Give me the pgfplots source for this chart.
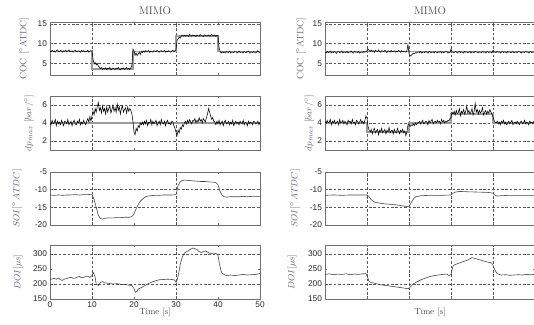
\documentclass[border=0pt]{standalone}
\usepackage{fontspec}
\setsansfont{Liberation Sans}
\usepackage{pgfplots}
\pgfplotsset{compat=1.18}
\definecolor{refgray}{RGB}{155,155,155}
\definecolor{gridc}{RGB}{85,85,85}
\definecolor{labc}{RGB}{100,94,118}
\definecolor{framec}{RGB}{110,110,110}

\pgfplotsset{
  mimo/.style={
    scale only axis, width=210pt, anchor=south west,
    xmin=0, xmax=50, xtick={0,10,...,50}, xticklabels={},
    axis line style={framec, line width=0.5pt},
    tick style={framec, line width=0.4pt},
    major tick length=2pt, tick align=inside,
    ticklabel style={font=\fontsize{8.3}{9}\selectfont\sffamily, text=black!85},
    yticklabel style={xshift=0.5pt},
    xticklabel style={yshift=1pt},
    /pgf/number format/assume math mode=true,
    grid style={gridc, dash pattern=on 2.6pt off 1.8pt, line width=0.45pt},
    ylabel style={font=\fontsize{9.3}{10}\selectfont, text=labc, anchor=center},
    title style={font=\fontsize{11}{12}\selectfont, text=black!72, at={(axis description cs:0.5,1)}, anchor=center, yshift=5.5pt},
    xlabel style={font=\fontsize{8.6}{9}\selectfont, text=black!72, at={(axis description cs:0.5,0)}, anchor=center, yshift=-13.5pt},
    ymajorgrids,
  },
  leftcol/.style={xmajorgrids=false, extra x ticks={10,30}, extra x tick labels={}, extra x tick style={grid=major, major tick length=0pt}},
  rightcol/.style={xmajorgrids=true},
  cocax/.style={height=53pt, ymin=2, ymax=15.5, ytick={5,10,15}, ylabel={COC [$^\circ$ATDC]}},
  dpax/.style={height=54pt, ymin=1, ymax=7, ytick={2,4,6}, ylabel={$dp_{max}\;[bar/^\circ]$}},
  soiax/.style={height=53pt, ymin=-20, ymax=-5, ytick={-20,-15,-10,-5}, ylabel={$SOI[^\circ\,ATDC]$}},
  doiax/.style={height=54pt, ymin=150, ymax=330, ytick={150,200,250,300}, ymajorgrids=false, extra y ticks={200,300}, extra y tick labels={}, extra y tick style={ymajorgrids=true, major tick length=0pt}, ylabel={$DOI[\mu s]$}},
  refline/.style={refgray, line width=1.8pt},
  measline/.style={black, line width=0.55pt},
  smoothline/.style={black!72, line width=0.6pt},
}

\begin{document}
\begin{tikzpicture}
% ---------------- left column ----------------
\begin{axis}[mimo, leftcol, cocax, at={(50pt,249pt)}, title={MIMO},
  ylabel style={at={(axis description cs:-0.124,0.5)}}]
\addplot[refline] coordinates {(0,8)(10,8)(10,3.5)(19.7,3.5)(19.7,8)(30,8)(30,12)(40,12)(40,8)(50,8)};
% sampled every 0.25 s
\addplot[measline] table[header=false, row sep=\\, x expr=\coordindex*0.25, y index=0] {
8.2\\7.9\\8.3\\8.0\\8.1\\7.8\\8.2\\8.4\\8.0\\7.9\\8.3\\8.1\\7.8\\8.2\\8.0\\8.3\\7.9\\8.1\\8.4\\7.9\\8.0\\8.2\\7.8\\8.1\\8.3\\8.0\\7.9\\8.2\\8.1\\7.8\\8.3\\8.0\\8.2\\7.9\\8.1\\8.0\\8.3\\7.8\\8.1\\8.2\\
8.0\\6.0\\4.8\\5.2\\4.6\\4.9\\4.3\\4.0\\3.6\\3.9\\3.4\\3.7\\3.5\\
3.8\\3.4\\3.7\\3.5\\3.9\\3.3\\3.6\\3.8\\3.5\\3.4\\3.7\\3.6\\3.9\\3.5\\3.3\\3.7\\3.6\\3.8\\3.4\\3.6\\3.9\\3.5\\3.7\\3.4\\3.8\\
4.5\\8.6\\8.2\\7.0\\7.6\\6.9\\7.4\\7.8\\7.2\\8.0\\7.7\\
8.1\\7.8\\8.2\\7.9\\8.0\\8.3\\7.7\\8.1\\8.0\\7.8\\8.2\\8.1\\7.9\\8.3\\8.0\\7.8\\8.1\\8.2\\7.9\\8.0\\8.3\\7.8\\8.1\\7.9\\8.2\\8.0\\7.8\\8.1\\8.3\\7.9\\8.2\\
8.4\\10.8\\11.2\\11.6\\11.4\\11.9\\12.2\\11.9\\
12.1\\11.9\\12.2\\12.0\\11.8\\12.3\\12.1\\11.9\\12.2\\12.0\\12.1\\11.8\\12.2\\12.0\\11.9\\12.3\\12.1\\12.0\\11.8\\12.2\\12.1\\11.9\\12.0\\12.2\\11.9\\12.1\\12.3\\11.9\\12.0\\12.2\\11.8\\12.1\\
12.0\\9.0\\8.0\\7.6\\7.9\\
7.7\\7.9\\7.6\\8.0\\7.8\\7.7\\8.1\\7.6\\7.9\\7.8\\7.7\\8.0\\7.9\\7.6\\7.8\\8.1\\7.7\\7.9\\7.8\\7.6\\8.0\\7.8\\7.7\\7.9\\8.1\\7.6\\7.8\\7.9\\7.7\\8.0\\7.8\\7.6\\7.9\\8.2\\7.8\\7.7\\
};
\end{axis}

\begin{axis}[mimo, leftcol, dpax, at={(50pt,174pt)},
  ylabel style={at={(axis description cs:-0.10,0.5)}}]
\addplot[refline] coordinates {(0,4)(50,4)};
\addplot[measline] table[header=false, row sep=\\, x expr=\coordindex*0.25, y index=0] {
4.1\\3.8\\4.3\\3.9\\4.0\\4.4\\3.7\\4.2\\3.9\\4.1\\3.8\\4.3\\4.0\\3.7\\4.2\\4.1\\3.9\\4.4\\3.8\\4.0\\4.2\\3.7\\4.1\\4.3\\3.9\\3.8\\4.2\\4.0\\4.4\\3.8\\4.1\\3.9\\4.3\\4.0\\3.8\\4.2\\4.5\\4.1\\4.7\\4.2\\
4.8\\5.3\\4.9\\5.6\\5.2\\5.8\\6.3\\5.4\\5.7\\5.1\\5.9\\5.3\\5.6\\
5.0\\5.8\\5.2\\5.6\\5.9\\5.1\\5.5\\6.0\\5.3\\5.7\\5.2\\6.1\\5.4\\5.8\\5.0\\5.6\\5.9\\5.2\\5.5\\5.7\\5.1\\5.8\\5.3\\5.6\\5.4\\
5.0\\4.2\\3.0\\2.7\\3.4\\3.1\\3.7\\3.5\\4.0\\3.8\\4.1\\
3.8\\4.2\\3.9\\4.3\\3.7\\4.1\\4.0\\4.4\\3.8\\4.2\\3.9\\4.1\\4.3\\3.7\\4.0\\4.2\\3.8\\4.4\\4.0\\3.9\\4.2\\3.7\\4.1\\4.3\\3.9\\4.0\\3.8\\4.2\\4.1\\
3.7\\3.4\\3.0\\2.6\\3.2\\2.9\\3.5\\3.3\\3.8\\3.6\\4.0\\
4.2\\3.9\\4.3\\4.0\\4.4\\4.1\\3.9\\4.3\\4.2\\4.5\\4.0\\4.3\\4.1\\4.6\\4.2\\4.4\\4.0\\4.5\\4.3\\4.1\\
4.6\\5.0\\5.6\\5.2\\4.8\\4.4\\4.6\\4.2\\
4.1\\3.8\\4.2\\3.9\\4.3\\3.8\\4.0\\4.2\\3.7\\4.1\\4.3\\3.9\\4.0\\4.2\\3.8\\4.1\\3.9\\4.3\\3.7\\4.0\\4.2\\3.9\\4.1\\3.8\\4.2\\4.0\\3.9\\4.3\\3.8\\4.1\\4.0\\3.7\\4.2\\3.9\\4.1\\4.0\\3.8\\4.2\\4.1\\3.9\\4.0\\4.2\\3.8\\4.1\\
};
\end{axis}

\begin{axis}[mimo, leftcol, soiax, at={(50pt,99pt)},
  ylabel style={at={(axis description cs:-0.157,0.5)}}]
\addplot[smoothline] coordinates {(0,-11.5)(1,-11.6)(2,-11.5)(3,-11.6)(4,-11.5)(5,-11.5)(6,-11.4)(7,-11.5)(8,-11.4)(9,-11.4)(10,-11.3)(10.5,-12.8)(11,-15)(11.5,-17.2)(12,-18.2)(12.5,-18.3)(13,-18.1)(14,-18.0)(15,-18.0)(16,-17.9)(17,-17.9)(18,-17.8)(19,-17.8)(19.5,-17.6)(20,-16.8)(20.5,-15.4)(21,-14.2)(21.5,-13.3)(22,-12.7)(22.5,-12.2)(23,-11.9)(24,-11.7)(25,-11.6)(26,-11.6)(27,-11.5)(28,-11.5)(29,-11.5)(30,-11.4)(30.25,-10.2)(30.5,-8.8)(31,-7.8)(31.5,-7.4)(32,-7.3)(33,-7.4)(34,-7.5)(35,-7.6)(36,-7.7)(37,-7.7)(38,-7.8)(39,-7.9)(39.5,-8.0)(40,-8.6)(40.5,-10.5)(41,-11.6)(41.5,-12.0)(42,-12.1)(43,-12.0)(44,-12.0)(45,-12.0)(46,-11.9)(47,-12.0)(48,-11.9)(49,-11.9)(50,-11.9)};
\end{axis}

\begin{axis}[mimo, leftcol, doiax, at={(50pt,25pt)},
  xticklabels={0,10,20,30,40,50}, xlabel={Time [s]},
  ylabel style={at={(axis description cs:-0.152,0.5)}}]
\addplot[smoothline] coordinates {(0,215)(0.5,217)(1,219)(1.5,216)(2,220)(2.5,214)(3,212)(3.5,217)(4,218)(4.5,221)(5,222)(5.5,219)(6,220)(6.5,223)(7,225)(7.5,221)(8,222)(8.5,225)(9,226)(9.5,222)(10,228)(10.3,238)(10.7,226)(11,200)(11.5,195)(12,205)(12.5,208)(13,204)(14,202)(15,200)(16,201)(17,199)(18,198)(19,196)(19.5,195)(20,185)(20.3,172)(20.7,175)(21,183)(22,190)(23,198)(24,205)(25,210)(26,214)(27,215)(28,216)(29,215)(29.7,213)(30,205)(30.3,215)(30.7,240)(31,265)(31.5,290)(32,303)(33,312)(34,320)(35,315)(35.5,308)(36,305)(37,310)(38,303)(39,300)(39.5,302)(40,296)(40.3,270)(40.7,245)(41,235)(42,228)(43,230)(44,228)(45,230)(46,232)(47,230)(48,231)(49,232)(50,235)};
\end{axis}

% ---------------- right column ----------------
\begin{axis}[mimo, rightcol, cocax, at={(325pt,249pt)}, title={MIMO},
  ylabel style={at={(axis description cs:-0.114,0.5)}}]
\addplot[refline] coordinates {(0,8)(50,8)};
\addplot[measline] table[header=false, row sep=\\, x expr=\coordindex*0.25, y index=0] {
7.9\\7.6\\8.0\\7.7\\7.8\\8.1\\7.6\\7.9\\7.7\\8.0\\7.8\\7.5\\7.9\\8.0\\7.7\\7.8\\8.1\\7.6\\7.9\\7.8\\7.7\\8.0\\7.6\\7.9\\7.8\\8.1\\7.7\\7.6\\8.0\\7.8\\7.9\\7.7\\8.0\\7.6\\7.8\\7.9\\7.7\\8.0\\7.8\\7.9\\
8.2\\
8.6\\8.3\\7.9\\8.4\\8.0\\8.2\\7.8\\8.3\\8.1\\7.9\\8.4\\8.0\\7.8\\8.2\\8.1\\7.9\\8.3\\8.0\\7.7\\8.2\\8.1\\7.8\\8.3\\7.9\\8.0\\8.2\\7.8\\8.1\\7.9\\8.3\\8.0\\7.8\\8.2\\7.9\\8.1\\8.0\\7.8\\8.2\\
9.8\\7.4\\6.8\\7.0\\7.3\\7.5\\7.4\\7.7\\7.6\\7.8\\
7.9\\7.7\\8.0\\7.6\\7.8\\7.9\\7.7\\8.0\\7.8\\7.6\\7.9\\8.0\\7.7\\7.8\\7.9\\7.6\\8.0\\7.8\\7.7\\7.9\\
7.8\\8.0\\7.6\\7.9\\7.7\\7.8\\8.0\\7.9\\7.6\\7.8\\7.7\\8.6\\7.9\\7.8\\7.7\\8.0\\7.9\\7.6\\7.8\\8.0\\
7.7\\7.9\\7.8\\7.6\\8.0\\7.8\\7.9\\7.7\\7.8\\8.0\\7.6\\7.9\\7.8\\7.7\\8.0\\7.9\\7.8\\7.6\\7.9\\7.8\\
7.7\\8.0\\7.8\\7.9\\7.6\\7.8\\8.0\\7.7\\7.9\\7.8\\7.6\\8.3\\7.9\\7.8\\7.7\\8.0\\7.8\\7.9\\7.6\\7.8\\
8.0\\7.7\\7.9\\7.8\\7.6\\8.0\\7.8\\7.9\\7.7\\7.8\\8.0\\7.6\\7.9\\7.8\\7.7\\8.0\\7.9\\7.8\\7.6\\7.9\\
7.8\\7.7\\8.0\\7.8\\7.9\\7.6\\7.8\\8.0\\7.7\\7.9\\7.8\\7.8\\
};
\end{axis}

\begin{axis}[mimo, rightcol, dpax, at={(325pt,174pt)},
  ylabel style={at={(axis description cs:-0.075,0.5)}}]
\addplot[refline] coordinates {(0,4)(10,4)(10,3)(20,3)(20,4)(30,4)(30,5)(40,5)(40,4)(50,4)};
\addplot[measline] table[header=false, row sep=\\, x expr=\coordindex*0.25, y index=0] {
4.2\\3.9\\4.3\\4.0\\4.1\\4.4\\3.8\\4.2\\4.0\\4.3\\3.9\\4.1\\4.2\\3.8\\4.4\\4.0\\4.1\\4.3\\3.9\\4.2\\4.0\\3.8\\4.3\\4.1\\4.2\\3.9\\4.4\\4.0\\4.1\\3.8\\4.3\\4.2\\3.9\\4.1\\4.4\\4.0\\4.2\\3.9\\4.3\\
4.8\\4.5\\3.6\\3.2\\
3.0\\3.3\\2.8\\3.2\\3.4\\2.9\\3.1\\3.3\\2.7\\3.2\\3.0\\3.4\\2.9\\3.1\\3.3\\2.8\\3.2\\3.0\\3.5\\2.9\\3.1\\3.2\\2.8\\3.3\\3.0\\2.9\\3.4\\3.1\\2.8\\3.2\\3.0\\3.3\\2.9\\3.1\\2.6\\3.0\\
3.8\\3.9\\3.6\\3.8\\3.7\\3.9\\3.7\\4.0\\3.8\\4.0\\
4.0\\4.2\\3.9\\4.1\\4.3\\3.9\\4.0\\4.2\\4.1\\3.8\\4.3\\4.0\\4.2\\4.4\\3.9\\4.1\\4.2\\4.0\\4.3\\4.1\\4.2\\3.9\\4.4\\4.1\\4.3\\4.0\\4.2\\4.1\\4.3\\4.2\\
4.5\\4.6\\5.2\\5.0\\
5.3\\4.9\\5.4\\5.0\\5.2\\5.6\\4.8\\5.3\\5.1\\5.5\\5.0\\5.3\\5.9\\5.1\\5.4\\5.0\\5.2\\5.6\\4.9\\5.3\\6.2\\5.2\\5.5\\5.0\\5.4\\5.1\\5.3\\5.7\\4.9\\5.2\\5.4\\5.0\\5.3\\5.1\\5.5\\5.2\\
5.0\\4.7\\4.3\\4.1\\
4.0\\4.2\\3.9\\4.1\\3.8\\4.2\\4.0\\4.3\\3.9\\4.1\\3.8\\4.0\\4.2\\3.9\\4.1\\4.3\\3.8\\4.0\\4.1\\3.9\\4.2\\4.0\\3.8\\4.1\\4.2\\3.9\\4.0\\4.3\\3.9\\4.1\\4.0\\3.8\\4.2\\4.0\\4.1\\3.9\\4.2\\4.0\\
};
\end{axis}

\begin{axis}[mimo, rightcol, soiax, at={(325pt,99pt)},
  ylabel style={at={(axis description cs:-0.143,0.5)}}]
\addplot[smoothline] coordinates {(0,-11.6)(2,-11.5)(4,-11.6)(6,-11.5)(8,-11.5)(10,-11.5)(10.5,-12)(11,-12.8)(11.5,-13.3)(12,-13.6)(13,-13.8)(14,-14.0)(15,-14.1)(16,-14.2)(17,-14.3)(18,-14.5)(19,-14.7)(19.7,-14.8)(20.2,-14.4)(20.7,-13.3)(21.2,-12.4)(21.7,-12.0)(22.5,-11.8)(23,-11.7)(25,-11.6)(28,-11.6)(30,-11.5)(30.5,-11.0)(31,-10.7)(32,-10.5)(34,-10.6)(37,-10.7)(39,-10.8)(40,-11.0)(40.5,-11.6)(41,-11.8)(42,-11.7)(44,-11.6)(50,-11.6)};
\end{axis}

\begin{axis}[mimo, rightcol, doiax, at={(325pt,25pt)}, xlabel={Time [s]},
  ylabel style={at={(axis description cs:-0.157,0.5)}}]
\addplot[smoothline] coordinates {(0,232)(1,234)(2,231)(3,233)(4,232)(5,234)(6,231)(7,233)(8,232)(9,234)(9.7,235)(10,228)(10.5,208)(11,205)(12,202)(13,198)(14,196)(15,194)(16,192)(17,190)(18,188)(19,186)(19.7,184)(20,186)(20.5,193)(21,200)(22,208)(23,215)(24,220)(25,225)(26,228)(27,230)(28,232)(29,233)(29.5,228)(30,232)(30.5,260)(31,265)(32,270)(33,275)(34,280)(35,288)(36,284)(37,280)(38,276)(39,272)(39.7,270)(40,262)(40.5,245)(41,234)(42,230)(43,231)(44,229)(45,230)(46,231)(47,230)(48,232)(49,231)(50,232)};
\end{axis}

\pgfresetboundingbox
\useasboundingbox (0,0) rectangle (534pt,324pt);
\end{tikzpicture}
\end{document}
